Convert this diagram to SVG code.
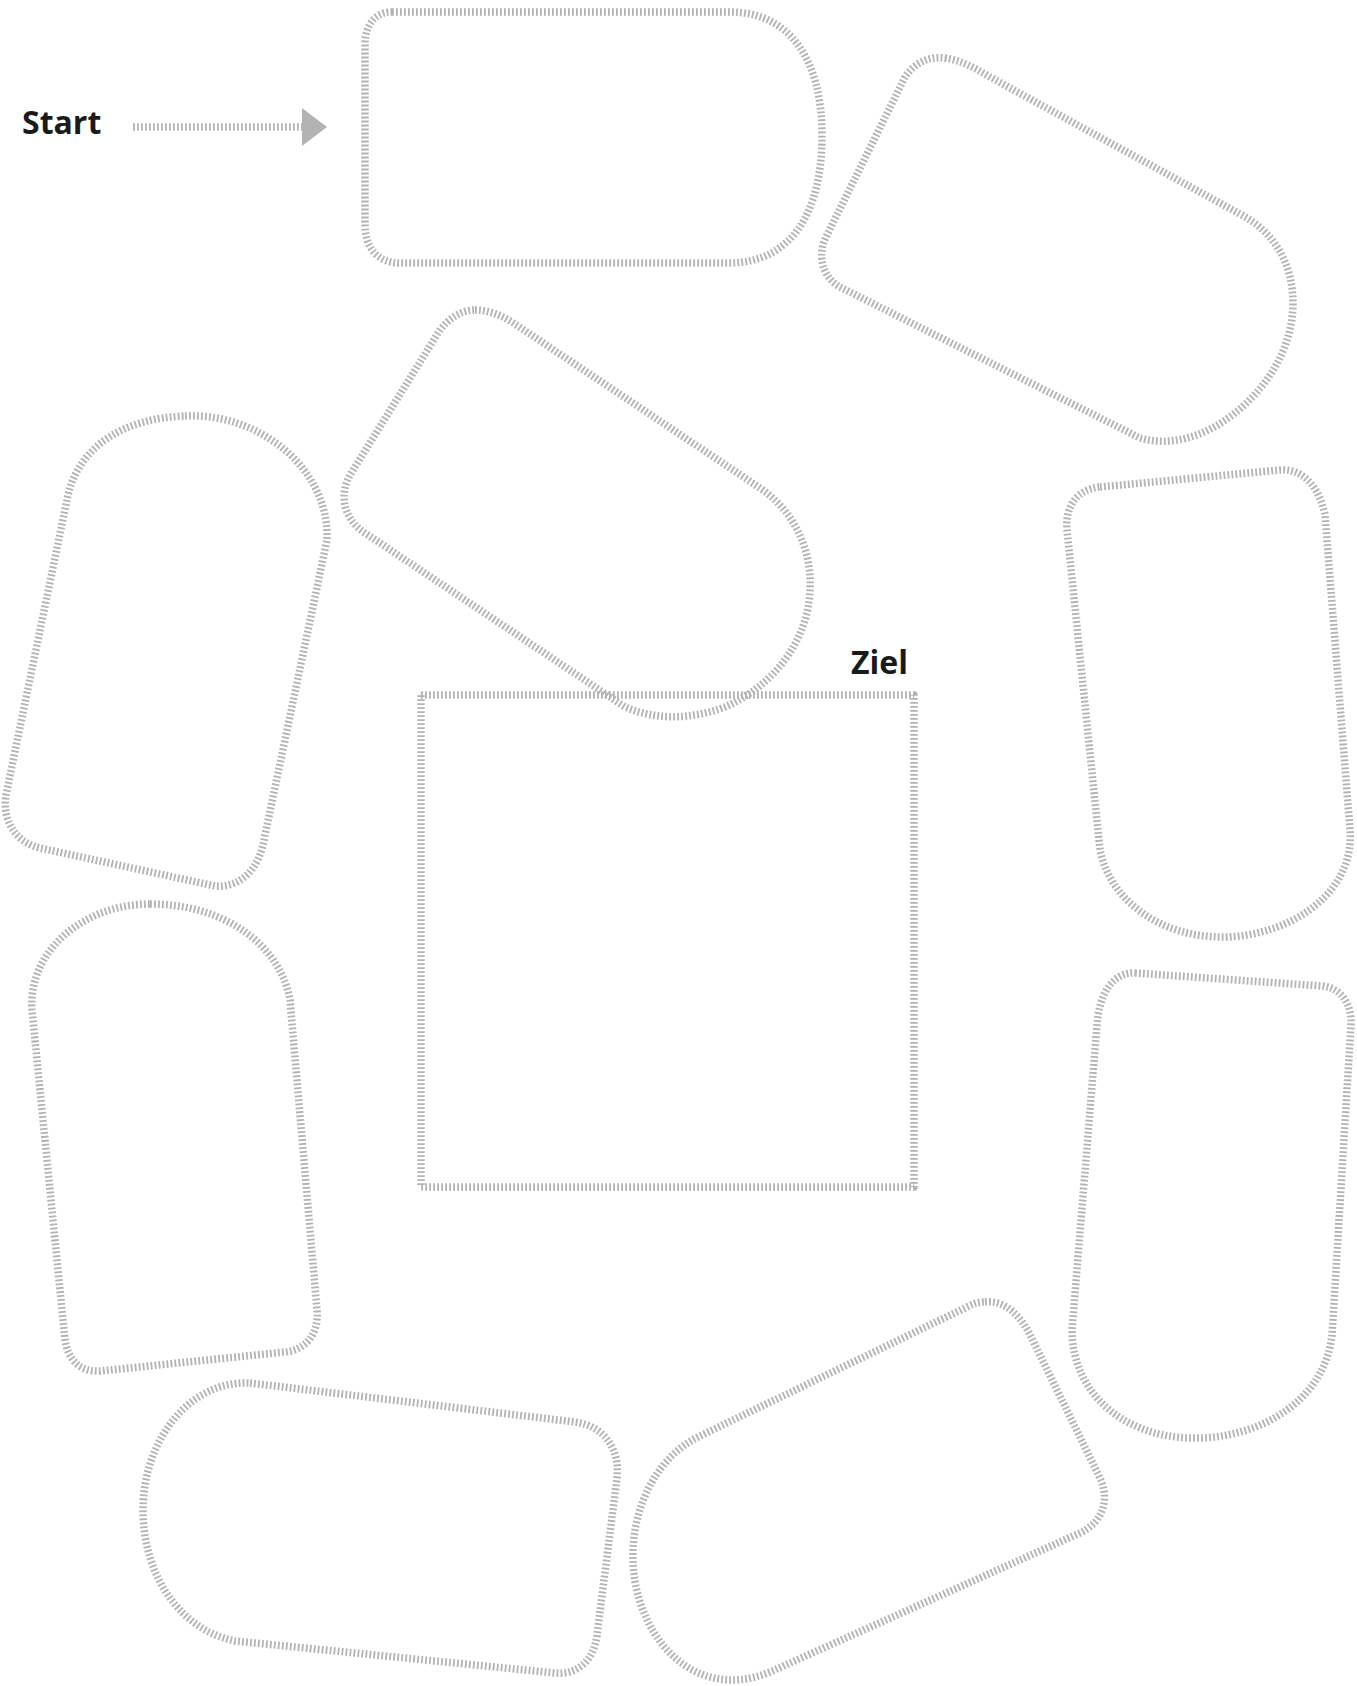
<svg xmlns="http://www.w3.org/2000/svg" width="1357" height="1686" viewBox="0 0 1357 1686">
<style>
.h{fill:none;stroke:#b3b3b3;stroke-width:7.5;stroke-dasharray:1.8 2.2;stroke-linejoin:round}
.t{font-family:"Open Sans","Noto Sans","Liberation Sans",sans-serif;font-weight:700;font-size:32px;fill:#1a1a1a}
</style>
<defs>
<marker id="ah" markerUnits="userSpaceOnUse" markerWidth="26" markerHeight="40" refX="1" refY="20" orient="auto">
<path d="M0,1 L25,20 L0,39 Z" fill="#b3b3b3"/>
</marker>
</defs>
<rect width="1357" height="1686" fill="#ffffff"/>
<g id="label-start"><text class="t" x="22" y="134">Start</text></g>
<g id="label-ziel"><text class="t" x="851" y="674">Ziel</text></g>
<g id="node1"><path class="h" d="M392,12 L730,12 C790,12 822,60 822,135 C822,215 790,262 730,263 L400,263 C378,263 365,248 365,225 L365,45 C365,25 375,12 392,12 Z"/></g>
<g id="node2"><path class="h" d="M945,58 C960,60 975,68 990,77 L1240,214 C1275,232 1293,265 1293,303 C1293,345 1270,385 1235,413 C1205,437 1170,447 1140,438 L840,287 C822,277 817,255 826,237 L905,77 C915,62 930,56 945,58 Z"/></g>
<g id="node3"><path class="h" d="M475,310 C488,310 500,315 512,322 L760,488 C795,512 812,550 810,590 C808,640 775,685 725,707 C690,720 655,720 625,707 L365,533 C345,520 338,497 350,475 L438,333 C448,318 462,310 475,310 Z"/></g>
<g id="node4"><path class="h" d="M185,416 C260,412 330,470 327,540 L265,835 C260,870 240,888 215,886 L40,848 C15,842 2,820 6,795 L68,495 C80,445 125,418 185,416 Z"/></g>
<g id="node5"><path class="h" d="M150,904 C225,904 280,945 290,1000 L317,1310 C319,1335 305,1350 285,1352 L100,1371 C80,1372 68,1360 65,1340 L32,1010 C28,950 85,904 150,904 Z"/></g>
<g id="node6"><path class="h" d="M250,1383 L575,1422 C605,1426 620,1450 617,1478 L597,1635 C594,1660 578,1675 555,1673 L235,1641 C180,1630 143,1575 143,1510 C143,1440 190,1380 250,1383 Z"/></g>
<g id="node7"><path class="h" d="M985,1302 C1005,1300 1022,1315 1035,1345 L1100,1478 C1110,1500 1103,1522 1080,1533 L770,1672 C690,1705 630,1630 633,1550 C635,1500 660,1455 700,1436 L965,1308 C972,1304 978,1302 985,1302 Z"/></g>
<g id="node8"><path class="h" d="M1135,973 L1322,986 C1342,988 1352,1005 1351,1025 L1332,1335 C1325,1400 1260,1440 1190,1438 C1120,1436 1072,1390 1072,1330 L1097,1025 C1099,995 1112,972 1135,973 Z"/></g>
<g id="node9"><path class="h" d="M1100,487 L1280,470 C1305,468 1320,490 1325,515 L1350,830 C1355,890 1295,935 1225,937 C1160,938 1110,900 1100,850 L1067,530 C1065,505 1078,489 1100,487 Z"/></g>
<g id="ziel"><path class="h" d="M421,695 L914,695 L914,1187 L421,1187 Z"/></g>
<g id="connectors"><path class="h" d="M133,127 L303,127" marker-end="url(#ah)"/></g>
</svg>
